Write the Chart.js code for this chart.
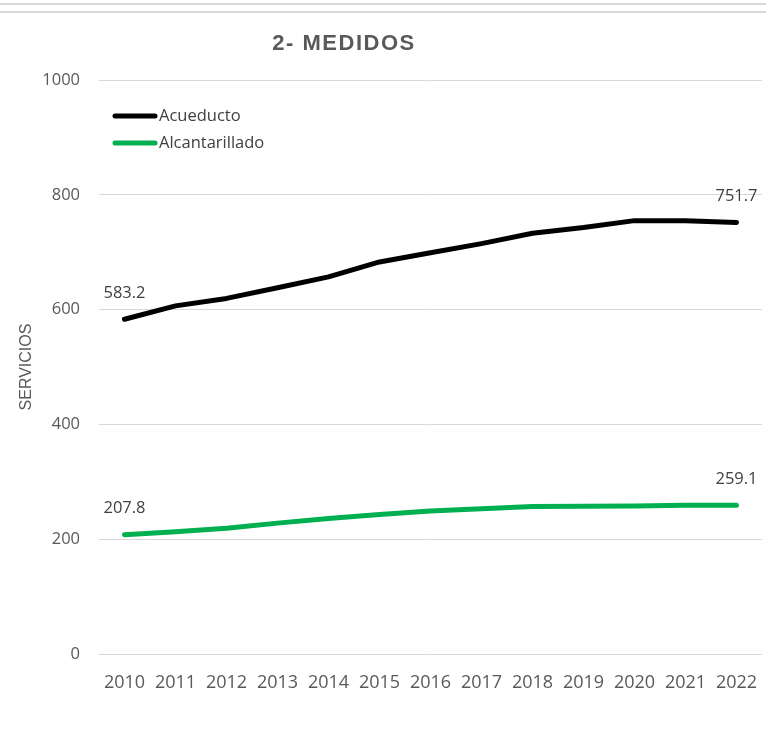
<!DOCTYPE html>
<html>
<head>
<meta charset="utf-8">
<script src="https://cdn.jsdelivr.net/npm/chart.js@4.4.0/dist/chart.umd.min.js"></script>
<style>
  html, body { margin: 0; padding: 0; background: #fff; }
  #wrap { position: relative; width: 766px; height: 742px; }
  #c { position: absolute; left: 0; top: 0; }
  .rule { position: absolute; left: 0; width: 766px; height: 2px; background: #d9d9d9; }
</style>
</head>
<body>
<div id="wrap">
  <canvas id="c" width="766" height="742" style="width:766px;height:742px"></canvas>
  <div class="rule" style="top:3px"></div>
  <div class="rule" style="top:11px"></div>
</div>
<script>
// data
const years = ["2010", "2011", "2012", "2013", "2014", "2015", "2016", "2017", "2018", "2019", "2020", "2021", "2022"];
const acueducto = [583.2, 606.5, 619.5, 638, 657, 683, 699, 715, 733, 743, 755, 755, 751.7];
const alcantarillado = [207.8, 213, 219, 228, 236, 243, 249, 253, 257, 257.5, 258, 259, 259.1];
const yTicks = [0, 200, 400, 600, 800, 1000];

const chartTitle = "2- MEDIDOS";
const yTitle = "SERVICIOS";

const BODY_FONT = "'Open Sans', sans-serif";

// Title sits a bit left of center, like the original
const titlePlugin = {
  id: "titleText",
  afterDraw(chart) {
    const ctx = chart.ctx;
    ctx.save();
    ctx.font = "bold 22px 'Liberation Sans', Arial, sans-serif";
    ctx.letterSpacing = "1.5px";
    ctx.fillStyle = "#595959";
    ctx.textAlign = "center";
    ctx.textBaseline = "middle";
    ctx.fillText(chartTitle, 344, 44);
    ctx.restore();
  }
};

// legend drawn inside the plot, top-left
const legendPlugin = {
  id: "innerLegend",
  afterDraw(chart) {
    const ctx = chart.ctx;
    ctx.save();
    chart.data.datasets.forEach((ds, i) => {
      const y = 116 + i * 27;
      ctx.strokeStyle = ds.borderColor;
      ctx.lineWidth = 5;
      ctx.lineCap = "round";
      ctx.beginPath();
      ctx.moveTo(115, y);
      ctx.lineTo(155, y);
      ctx.stroke();
      ctx.font = "16.5px " + BODY_FONT;
      ctx.fillStyle = "#404040";
      ctx.textAlign = "left";
      ctx.textBaseline = "middle";
      ctx.fillText(ds.label, 159, y);
    });
    ctx.restore();
  }
};

// first and last value labels above each line
const endLabels = {
  id: "endLabels",
  afterDatasetsDraw(chart) {
    const ctx = chart.ctx;
    ctx.save();
    ctx.font = "16.5px " + BODY_FONT;
    ctx.fillStyle = "#404040";
    ctx.textAlign = "center";
    ctx.textBaseline = "middle";
    chart.data.datasets.forEach((ds, i) => {
      const pts = chart.getDatasetMeta(i).data;
      [0, pts.length - 1].forEach(k => {
        ctx.fillText(ds.data[k].toFixed(1), pts[k].x, pts[k].y - 26);
      });
    });
    ctx.restore();
  }
};

new Chart(document.getElementById("c"), {
  type: "line",
  data: {
    labels: years,
    datasets: [
      {
        label: "Acueducto",
        data: acueducto,
        borderColor: "#000000",
        backgroundColor: "#000000",
        borderWidth: 5,
        borderCapStyle: "round",
        borderJoinStyle: "round",
        pointRadius: 0,
        tension: 0
      },
      {
        label: "Alcantarillado",
        data: alcantarillado,
        borderColor: "#00b050",
        backgroundColor: "#00b050",
        borderWidth: 5,
        borderCapStyle: "round",
        borderJoinStyle: "round",
        pointRadius: 0,
        tension: 0
      }
    ]
  },
  options: {
    responsive: false,
    animation: false,
    devicePixelRatio: 1,
    layout: { padding: { top: 80, right: 4, bottom: 0, left: 0 } },
    plugins: {
      legend: { display: false },
      title: { display: false },
      tooltip: { enabled: false }
    },
    scales: {
      x: {
        type: "category",
        offset: true,
        grid: { display: false, drawTicks: false },
        border: { display: false },
        ticks: {
          font: { family: BODY_FONT, size: 18 },
          color: "#595959",
          padding: 18,
          maxRotation: 0,
          autoSkip: false
        },
        afterFit(s) {
          s.height = 88;
          s.paddingLeft = 0;
          s.paddingRight = 0;
        }
      },
      y: {
        min: 0,
        max: 1000,
        afterBuildTicks(s) { s.ticks = yTicks.map(v => ({ value: v })); },
        grid: { color: "#d9d9d9", lineWidth: 1, drawTicks: false },
        border: { display: false },
        ticks: {
          font: { family: BODY_FONT, size: 16.5 },
          color: "#595959",
          padding: 19,
          callback: v => String(v)
        },
        title: {
          display: true,
          text: yTitle,
          font: { family: "'Liberation Sans', Arial, sans-serif", size: 16 },
          color: "#595959",
          padding: { top: 17, bottom: 0 }
        },
        afterFit(s) {
          s.width = 99;
          s.paddingTop = 0;
          s.paddingBottom = 0;
        }
      }
    }
  },
  plugins: [titlePlugin, legendPlugin, endLabels]
});
</script>
</body>
</html>
